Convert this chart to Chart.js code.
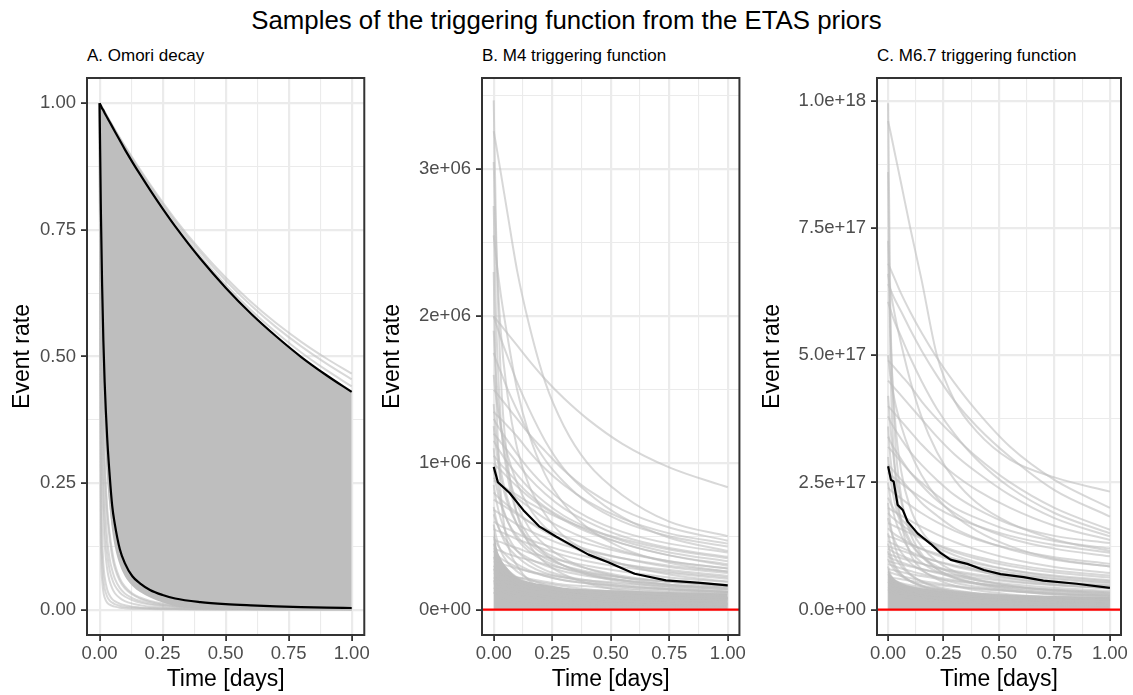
<!DOCTYPE html>
<html><head><meta charset="utf-8">
<script src="https://cdn.jsdelivr.net/npm/chart.js@4.4.1/dist/chart.umd.min.js"></script>
<style>
html,body{margin:0;padding:0;background:#fff;width:1133px;height:695px;overflow:hidden;font-family:"Liberation Sans",Arial,sans-serif;}
#title{position:absolute;left:0;width:1133px;top:8px;text-align:center;font-size:25.8px;line-height:25.8px;color:#000;white-space:nowrap;}
.sub{position:absolute;font-size:17px;line-height:17px;color:#000;top:47px;white-space:nowrap;}
canvas{position:absolute;top:0;}
</style></head><body>
<div id="title">Samples of the triggering function from the ETAS priors</div>
<div class="sub" style="left:87px">A. Omori decay</div>
<div class="sub" style="left:482px">B. M4 triggering function</div>
<div class="sub" style="left:877px">C. M6.7 triggering function</div>
<canvas id="cA" width="372" height="695" style="left:0px"></canvas>
<canvas id="cB" width="378" height="695" style="left:370px"></canvas>
<canvas id="cC" width="383" height="695" style="left:750px"></canvas>
<script>
// ---------------- axis ticks ----------------
const X_MAJOR = [0, 0.25, 0.5, 0.75, 1.0];
const X_MINOR = [0.125, 0.375, 0.625, 0.875];
const X_LABELS = ['0.00', '0.25', '0.50', '0.75', '1.00'];

const A_Y_MAJOR = [0, 0.25, 0.5, 0.75, 1.0];
const A_Y_MINOR = [0.125, 0.375, 0.625, 0.875];
const A_Y_LABELS = ['0.00', '0.25', '0.50', '0.75', '1.00'];

// panel B values are in units of 1e6
const B_Y_MAJOR = [0, 1, 2, 3];
const B_Y_MINOR = [0.5, 1.5, 2.5, 3.5];
const B_Y_LABELS = ['0e+00', '1e+06', '2e+06', '3e+06'];

// panel C values are in units of 1e17
const C_Y_MAJOR = [0, 2.5, 5, 7.5, 10];
const C_Y_MINOR = [1.25, 3.75, 6.25, 8.75];
const C_Y_LABELS = ['0.0e+00', '2.5e+17', '5.0e+17', '7.5e+17', '1.0e+18'];

// ---------------- panel A : Omori decay ----------------
const TIME_A = [0, 0.005, 0.01, 0.015, 0.02, 0.03, 0.04, 0.05, 0.06, 0.08, 0.1, 0.13, 0.16, 0.2, 0.25, 0.3, 0.4, 0.5, 0.6, 0.7, 0.8, 0.9, 1.0];
const A_UPPER_BLACK = [1.0, 0.995, 0.99, 0.986, 0.981, 0.972, 0.963, 0.954, 0.945, 0.927, 0.909, 0.884, 0.86, 0.829, 0.792, 0.757, 0.693, 0.636, 0.585, 0.54, 0.499, 0.463, 0.43];
const A_LOWER_BLACK = [1.0, 0.79, 0.64, 0.53, 0.45, 0.34, 0.265, 0.205, 0.17, 0.12, 0.092, 0.066, 0.052, 0.039, 0.029, 0.022, 0.015, 0.011, 0.0085, 0.0065, 0.005, 0.004, 0.0033];
// lower edge of the region fully covered by overlapping samples
const A_DENSE_FLOOR = [1.0, 0.7, 0.54, 0.43, 0.36, 0.26, 0.2, 0.155, 0.125, 0.088, 0.066, 0.047, 0.035, 0.024, 0.014, 0.007, 0.002, 0, 0, 0, 0, 0, 0];
const A_SAMPLES_LOW = [
  [1, 0.74, 0.58, 0.47, 0.39, 0.29, 0.22, 0.175, 0.145, 0.1, 0.075, 0.054, 0.041, 0.03, 0.021, 0.016, 0.01, 0.007, 0.005, 0.004, 0.003, 0.0025, 0.002],
  [1, 0.7, 0.5, 0.38, 0.3, 0.2, 0.15, 0.115, 0.09, 0.062, 0.046, 0.032, 0.024, 0.017, 0.012, 0.009, 0.006, 0.004, 0.003, 0.0025, 0.002, 0.0017, 0.0015],
  [1, 0.65, 0.46, 0.35, 0.28, 0.19, 0.14, 0.105, 0.083, 0.057, 0.042, 0.03, 0.022, 0.015, 0.01, 0.0075, 0.0048, 0.0034, 0.0026, 0.002, 0.0016, 0.0014, 0.0012],
  [1, 0.6, 0.4, 0.29, 0.22, 0.14, 0.1, 0.078, 0.062, 0.043, 0.032, 0.023, 0.017, 0.012, 0.009, 0.007, 0.0045, 0.0032, 0.0025, 0.002, 0.0016, 0.0013, 0.0011],
  [1, 0.52, 0.33, 0.23, 0.17, 0.11, 0.078, 0.06, 0.048, 0.034, 0.026, 0.019, 0.014, 0.01, 0.0075, 0.006, 0.004, 0.0028, 0.0021, 0.0017, 0.0014, 0.0012, 0.001],
  [1, 0.45, 0.27, 0.18, 0.13, 0.08, 0.056, 0.042, 0.033, 0.023, 0.017, 0.012, 0.009, 0.006, 0.0045, 0.0035, 0.0022, 0.0016, 0.0012, 0.001, 0.0008, 0.0007, 0.0006],
  [1, 0.3, 0.15, 0.09, 0.065, 0.04, 0.028, 0.021, 0.017, 0.012, 0.009, 0.006, 0.0045, 0.0032, 0.0024, 0.0018, 0.0012, 0.0009, 0.0007, 0.0005, 0.0004, 0.0004, 0.0003],
  [1, 0.22, 0.1, 0.06, 0.042, 0.026, 0.018, 0.014, 0.011, 0.0078, 0.006, 0.0043, 0.0033, 0.0025, 0.0019, 0.0015, 0.001, 0.0007, 0.0006, 0.0005, 0.0004, 0.0003, 0.0003],
  [1, 0.15, 0.06, 0.035, 0.024, 0.014, 0.01, 0.0075, 0.006, 0.004, 0.003, 0.002, 0.0016, 0.0012, 0.0009, 0.0007, 0.0005, 0.0004, 0.0003, 0.0002, 0.0002, 0.0002, 0.0001]
];
const TIME_A_COARSE = [0, 0.1, 0.2, 0.3, 0.4, 0.5, 0.6, 0.7, 0.8, 0.9, 1.0];
const A_SAMPLES_HIGH = [
  [1.0, 0.912, 0.833, 0.762, 0.698, 0.642, 0.592, 0.548, 0.508, 0.473, 0.441],
  [1.0, 0.914, 0.837, 0.767, 0.705, 0.65, 0.601, 0.558, 0.52, 0.486, 0.455],
  [1.0, 0.916, 0.84, 0.771, 0.71, 0.656, 0.608, 0.566, 0.529, 0.496, 0.466]
];

// ---------------- panels B and C: common sample grid ----------------
const TIME_BC = [0, 0.01, 0.03, 0.06, 0.1, 0.15, 0.22, 0.3, 0.4, 0.55, 0.75, 1.0];

// panel B samples (x 1e6)
const B_SAMPLES = [
  [3.47, 2.6, 1.6, 1.0, 0.65, 0.45, 0.32, 0.24, 0.18, 0.13, 0.1, 0.08],
  [3.26, 3.17, 2.98, 2.69, 2.31, 1.95, 1.55, 1.25, 1.0, 0.78, 0.6, 0.5],
  [3.05, 2.5, 1.9, 1.45, 1.1, 0.85, 0.65, 0.5, 0.4, 0.31, 0.24, 0.19],
  [2.75, 2.0, 1.3, 0.9, 0.65, 0.5, 0.38, 0.3, 0.24, 0.19, 0.15, 0.12],
  [2.55, 2.4, 2.15, 1.85, 1.5, 1.2, 0.92, 0.72, 0.56, 0.42, 0.32, 0.26],
  [2.3, 1.5, 0.8, 0.45, 0.3, 0.2, 0.14, 0.1, 0.08, 0.06, 0.045, 0.035],
  [2.0, 1.98, 1.94, 1.88, 1.8, 1.7, 1.57, 1.44, 1.3, 1.13, 0.97, 0.834],
  [2.0, 1.95, 1.85, 1.72, 1.55, 1.37, 1.15, 0.96, 0.8, 0.63, 0.49, 0.4],
  [1.9, 1.6, 1.25, 0.95, 0.72, 0.56, 0.44, 0.35, 0.28, 0.22, 0.17, 0.14],
  [1.75, 1.7, 1.62, 1.5, 1.36, 1.2, 1.02, 0.87, 0.73, 0.6, 0.5, 0.43],
  [1.6, 1.45, 1.25, 1.05, 0.86, 0.7, 0.56, 0.46, 0.38, 0.31, 0.26, 0.22],
  [1.5, 1.48, 1.44, 1.38, 1.3, 1.2, 1.08, 0.95, 0.82, 0.68, 0.56, 0.47],
  [1.4, 1.2, 0.95, 0.75, 0.58, 0.46, 0.37, 0.3, 0.25, 0.2, 0.16, 0.13],
  [1.35, 1.33, 1.3, 1.25, 1.18, 1.08, 0.96, 0.85, 0.74, 0.62, 0.52, 0.45],
  [1.3, 1.27, 1.22, 1.15, 1.06, 0.96, 0.84, 0.73, 0.63, 0.53, 0.45, 0.39],
  [1.25, 1.1, 0.9, 0.72, 0.58, 0.48, 0.39, 0.33, 0.28, 0.23, 0.19, 0.16],
  [1.2, 1.18, 1.14, 1.08, 1.0, 0.9, 0.79, 0.69, 0.6, 0.5, 0.42, 0.36],
  [1.15, 1.12, 1.07, 1.0, 0.92, 0.83, 0.73, 0.64, 0.56, 0.47, 0.39, 0.33],
  [1.1, 0.95, 0.75, 0.6, 0.48, 0.4, 0.33, 0.28, 0.24, 0.2, 0.17, 0.15],
  [1.05, 1.03, 0.99, 0.94, 0.87, 0.79, 0.7, 0.62, 0.54, 0.45, 0.37, 0.31],
  [1.0, 0.98, 0.95, 0.9, 0.84, 0.77, 0.69, 0.61, 0.53, 0.45, 0.37, 0.3],
  [0.95, 0.85, 0.72, 0.6, 0.5, 0.42, 0.35, 0.3, 0.26, 0.22, 0.19, 0.17],
  [0.9, 0.88, 0.85, 0.81, 0.76, 0.7, 0.62, 0.55, 0.48, 0.4, 0.33, 0.28],
  [0.88, 0.87, 0.85, 0.82, 0.78, 0.73, 0.67, 0.61, 0.55, 0.48, 0.41, 0.35],
  [0.85, 0.75, 0.62, 0.5, 0.4, 0.33, 0.27, 0.23, 0.2, 0.17, 0.14, 0.12],
  [0.8, 0.78, 0.75, 0.71, 0.66, 0.6, 0.53, 0.47, 0.41, 0.35, 0.29, 0.25],
  [0.75, 0.74, 0.72, 0.69, 0.65, 0.6, 0.55, 0.5, 0.45, 0.39, 0.33, 0.28],
  [0.7, 0.62, 0.52, 0.43, 0.36, 0.3, 0.25, 0.22, 0.19, 0.16, 0.14, 0.12],
  [0.68, 0.67, 0.65, 0.62, 0.58, 0.54, 0.49, 0.44, 0.4, 0.35, 0.3, 0.26],
  [0.65, 0.6, 0.53, 0.46, 0.4, 0.35, 0.3, 0.26, 0.23, 0.2, 0.17, 0.15],
  [0.6, 0.59, 0.57, 0.55, 0.52, 0.48, 0.44, 0.4, 0.36, 0.31, 0.27, 0.23],
  [0.58, 0.5, 0.4, 0.32, 0.26, 0.21, 0.17, 0.14, 0.12, 0.1, 0.085, 0.07],
  [0.55, 0.54, 0.53, 0.51, 0.48, 0.45, 0.41, 0.37, 0.33, 0.29, 0.25, 0.21],
  [0.5, 0.46, 0.41, 0.36, 0.31, 0.27, 0.23, 0.2, 0.18, 0.15, 0.13, 0.11],
  [0.48, 0.47, 0.46, 0.44, 0.42, 0.39, 0.36, 0.33, 0.3, 0.26, 0.22, 0.19],
  [0.45, 0.4, 0.33, 0.27, 0.22, 0.18, 0.15, 0.13, 0.11, 0.09, 0.08, 0.07],
  [0.42, 0.41, 0.4, 0.38, 0.36, 0.34, 0.31, 0.28, 0.25, 0.22, 0.19, 0.16],
  [0.4, 0.38, 0.35, 0.32, 0.29, 0.26, 0.23, 0.2, 0.18, 0.16, 0.14, 0.12],
  [0.36, 0.32, 0.27, 0.22, 0.18, 0.15, 0.13, 0.11, 0.095, 0.08, 0.07, 0.06],
  [0.33, 0.32, 0.31, 0.3, 0.28, 0.26, 0.24, 0.22, 0.2, 0.18, 0.16, 0.14],
  [0.3, 0.28, 0.26, 0.24, 0.22, 0.2, 0.18, 0.16, 0.14, 0.12, 0.1, 0.09],
  [0.28, 0.24, 0.2, 0.16, 0.13, 0.11, 0.09, 0.075, 0.065, 0.055, 0.045, 0.04],
  [0.25, 0.245, 0.24, 0.23, 0.22, 0.21, 0.19, 0.17, 0.16, 0.14, 0.12, 0.11],
  [0.22, 0.21, 0.2, 0.19, 0.17, 0.16, 0.14, 0.13, 0.11, 0.1, 0.09, 0.08],
  [0.2, 0.17, 0.14, 0.11, 0.09, 0.075, 0.06, 0.05, 0.045, 0.04, 0.035, 0.03],
  [0.18, 0.175, 0.17, 0.165, 0.155, 0.145, 0.135, 0.125, 0.115, 0.1, 0.09, 0.08],
  [0.15, 0.14, 0.13, 0.12, 0.11, 0.1, 0.09, 0.08, 0.07, 0.06, 0.05, 0.045],
  [0.12, 0.1, 0.08, 0.06, 0.05, 0.04, 0.035, 0.03, 0.025, 0.02, 0.018, 0.015]
];
const B_DENSE_TOP = [0.6, 0.45, 0.35, 0.28, 0.22, 0.19, 0.17, 0.15, 0.14, 0.13, 0.12, 0.11];
const B_BLACK_TIME = [0, 0.018, 0.068, 0.131, 0.194, 0.264, 0.32, 0.405, 0.489, 0.602, 0.736, 0.883, 1.0];
const B_BLACK = [0.973, 0.868, 0.795, 0.67, 0.568, 0.50, 0.45, 0.375, 0.323, 0.245, 0.20, 0.182, 0.166];

// panel C samples (x 1e17)
const C_SAMPLES = [
  [9.95, 6.0, 3.5, 2.2, 1.5, 1.1, 0.8, 0.62, 0.5, 0.38, 0.29, 0.23],
  [9.6, 9.4, 8.98, 8.35, 7.5, 6.5, 5.0, 4.1, 3.5, 2.95, 2.6, 2.32],
  [8.6, 5.0, 2.8, 1.7, 1.1, 0.8, 0.6, 0.47, 0.38, 0.3, 0.24, 0.2],
  [7.25, 5.5, 3.8, 2.7, 2.0, 1.55, 1.2, 0.95, 0.78, 0.62, 0.5, 0.42],
  [6.8, 6.7, 6.5, 6.2, 5.85, 5.45, 4.95, 4.45, 3.9, 3.2, 2.55, 2.0],
  [6.6, 6.3, 5.8, 5.2, 4.5, 3.8, 3.1, 2.55, 2.1, 1.7, 1.38, 1.15],
  [6.4, 6.3, 6.1, 5.85, 5.5, 5.1, 4.6, 4.1, 3.6, 3.0, 2.35, 1.83],
  [6.05, 5.9, 5.65, 5.35, 4.95, 4.5, 3.95, 3.45, 2.95, 2.4, 1.9, 1.5],
  [5.0, 4.6, 4.1, 3.6, 3.1, 2.65, 2.2, 1.85, 1.55, 1.25, 1.0, 0.85],
  [4.9, 4.85, 4.75, 4.6, 4.4, 4.1, 3.75, 3.4, 3.0, 2.5, 2.0, 1.57],
  [4.5, 4.45, 4.35, 4.2, 4.0, 3.75, 3.4, 3.05, 2.7, 2.25, 1.8, 1.44],
  [4.2, 3.6, 2.8, 2.1, 1.6, 1.25, 0.95, 0.75, 0.6, 0.47, 0.37, 0.3],
  [4.0, 3.95, 3.85, 3.7, 3.5, 3.25, 2.95, 2.65, 2.35, 2.0, 1.65, 1.37],
  [3.8, 3.7, 3.55, 3.35, 3.1, 2.85, 2.55, 2.25, 1.98, 1.68, 1.45, 1.31],
  [3.6, 3.0, 2.3, 1.75, 1.35, 1.05, 0.8, 0.64, 0.52, 0.41, 0.33, 0.27],
  [3.4, 3.3, 3.15, 2.95, 2.7, 2.45, 2.15, 1.9, 1.65, 1.4, 1.2, 1.05],
  [3.2, 3.15, 3.05, 2.9, 2.7, 2.5, 2.25, 2.0, 1.8, 1.55, 1.35, 1.2],
  [3.0, 2.6, 2.1, 1.65, 1.3, 1.05, 0.85, 0.7, 0.58, 0.47, 0.38, 0.32],
  [2.85, 2.8, 2.7, 2.55, 2.35, 2.1, 1.85, 1.6, 1.4, 1.18, 0.98, 0.85],
  [2.7, 2.65, 2.58, 2.48, 2.35, 2.2, 2.0, 1.82, 1.65, 1.45, 1.27, 1.12],
  [2.5, 2.2, 1.8, 1.45, 1.15, 0.93, 0.75, 0.62, 0.52, 0.42, 0.35, 0.3],
  [2.4, 2.35, 2.28, 2.18, 2.05, 1.9, 1.72, 1.55, 1.38, 1.2, 1.03, 0.9],
  [2.2, 2.1, 1.95, 1.78, 1.6, 1.42, 1.23, 1.07, 0.93, 0.78, 0.65, 0.56],
  [2.1, 1.7, 1.25, 0.92, 0.7, 0.55, 0.43, 0.35, 0.29, 0.23, 0.19, 0.16],
  [2.0, 1.97, 1.92, 1.85, 1.75, 1.63, 1.48, 1.33, 1.18, 1.0, 0.84, 0.72],
  [1.9, 1.85, 1.77, 1.67, 1.55, 1.42, 1.27, 1.13, 1.0, 0.86, 0.73, 0.63],
  [1.8, 1.6, 1.35, 1.12, 0.92, 0.77, 0.63, 0.53, 0.45, 0.37, 0.31, 0.26],
  [1.7, 1.68, 1.64, 1.58, 1.5, 1.4, 1.28, 1.16, 1.04, 0.9, 0.77, 0.67],
  [1.6, 1.55, 1.48, 1.4, 1.3, 1.19, 1.07, 0.96, 0.85, 0.73, 0.62, 0.54],
  [1.5, 1.3, 1.05, 0.85, 0.68, 0.56, 0.45, 0.38, 0.32, 0.26, 0.21, 0.18],
  [1.45, 1.43, 1.4, 1.35, 1.28, 1.2, 1.1, 1.0, 0.9, 0.78, 0.67, 0.58],
  [1.35, 1.32, 1.28, 1.22, 1.14, 1.05, 0.95, 0.85, 0.76, 0.65, 0.55, 0.48],
  [1.3, 1.1, 0.88, 0.7, 0.56, 0.46, 0.37, 0.31, 0.26, 0.21, 0.17, 0.14],
  [1.25, 1.23, 1.2, 1.16, 1.1, 1.03, 0.95, 0.87, 0.79, 0.69, 0.6, 0.52],
  [1.2, 1.17, 1.12, 1.06, 0.99, 0.91, 0.82, 0.74, 0.66, 0.57, 0.49, 0.42],
  [1.15, 1.0, 0.83, 0.68, 0.56, 0.47, 0.39, 0.33, 0.28, 0.23, 0.19, 0.16],
  [1.1, 1.08, 1.05, 1.01, 0.96, 0.9, 0.83, 0.76, 0.69, 0.61, 0.53, 0.47],
  [1.05, 1.02, 0.98, 0.93, 0.87, 0.8, 0.72, 0.65, 0.58, 0.5, 0.43, 0.37],
  [1.0, 0.9, 0.78, 0.66, 0.56, 0.48, 0.41, 0.35, 0.3, 0.25, 0.21, 0.18],
  [0.95, 0.94, 0.92, 0.89, 0.85, 0.8, 0.74, 0.68, 0.62, 0.55, 0.48, 0.42],
  [0.9, 0.88, 0.85, 0.81, 0.76, 0.7, 0.64, 0.58, 0.52, 0.45, 0.39, 0.34],
  [0.85, 0.7, 0.55, 0.43, 0.34, 0.27, 0.22, 0.18, 0.15, 0.12, 0.1, 0.085],
  [0.8, 0.79, 0.77, 0.74, 0.7, 0.66, 0.61, 0.56, 0.51, 0.45, 0.39, 0.34],
  [0.75, 0.73, 0.7, 0.66, 0.62, 0.57, 0.52, 0.47, 0.42, 0.37, 0.32, 0.28],
  [0.7, 0.65, 0.58, 0.51, 0.45, 0.39, 0.34, 0.3, 0.26, 0.22, 0.19, 0.16],
  [0.65, 0.64, 0.62, 0.6, 0.57, 0.53, 0.49, 0.45, 0.41, 0.36, 0.31, 0.27],
  [0.6, 0.58, 0.55, 0.52, 0.48, 0.44, 0.4, 0.36, 0.32, 0.28, 0.24, 0.21],
  [0.55, 0.5, 0.44, 0.38, 0.33, 0.28, 0.24, 0.21, 0.18, 0.15, 0.13, 0.11],
  [0.5, 0.49, 0.48, 0.46, 0.44, 0.41, 0.38, 0.35, 0.32, 0.28, 0.25, 0.22],
  [0.45, 0.43, 0.4, 0.37, 0.34, 0.31, 0.28, 0.25, 0.22, 0.19, 0.16, 0.14],
  [0.4, 0.36, 0.31, 0.27, 0.23, 0.2, 0.17, 0.15, 0.13, 0.11, 0.09, 0.08],
  [0.35, 0.34, 0.33, 0.32, 0.3, 0.28, 0.26, 0.24, 0.22, 0.2, 0.18, 0.16]
];
const C_DENSE_TOP = [0.8, 0.7, 0.6, 0.52, 0.46, 0.42, 0.38, 0.35, 0.32, 0.29, 0.27, 0.25];
const C_BLACK_TIME = [0, 0.013, 0.025, 0.043, 0.066, 0.088, 0.133, 0.193, 0.238, 0.283, 0.357, 0.432, 0.507, 0.611, 0.70, 0.85, 1.0];
const C_BLACK = [2.82, 2.55, 2.52, 2.06, 1.96, 1.73, 1.50, 1.29, 1.11, 0.98, 0.90, 0.78, 0.70, 0.64, 0.57, 0.51, 0.43];

const HLINE_VALUE = 0;

// ---------------- styling ----------------
const FONT = '"Liberation Sans", Arial, Helvetica, sans-serif';
Chart.defaults.font.family = FONT;
const GREY_LINE = 'rgba(190,190,190,0.6)';
const GREY_FILL = '#bebebe';

function pts(xs, ys) { return ys.map((y, i) => ({ x: xs[i], y: y })); }

function greyLine(xs, ys) {
  return { data: pts(xs, ys), borderColor: GREY_LINE, borderWidth: 2, pointRadius: 0,
           cubicInterpolationMode: 'monotone', fill: false, order: 10 };
}
function blackLine(xs, ys, smooth) {
  return { data: pts(xs, ys), borderColor: '#000000', borderWidth: 2.2, pointRadius: 0,
           cubicInterpolationMode: smooth ? 'monotone' : 'default', tension: 0, fill: false, order: 0 };
}

const decor = {
  id: 'decor',
  afterDatasetsDraw(chart, args, opts) {
    const { ctx, chartArea: a, scales } = chart;
    ctx.save();
    if (opts.hline) {
      const y = scales.y.getPixelForValue(HLINE_VALUE);
      ctx.strokeStyle = '#ff0000';
      ctx.lineWidth = 2.2;
      ctx.beginPath(); ctx.moveTo(a.left, y); ctx.lineTo(a.right, y); ctx.stroke();
    }
    ctx.strokeStyle = '#333333';
    ctx.lineWidth = 2;
    ctx.strokeRect(a.left, a.top, a.right - a.left, a.bottom - a.top);
    ctx.restore();
  }
};

function axisCfg(major, minor, labels, min, max, isX, size, title) {
  const all = major.concat(minor).sort((p, q) => p - q);
  const isMajor = v => major.some(m => Math.abs(m - v) < 1e-9);
  return {
    type: 'linear', min: min, max: max,
    afterBuildTicks: s => { s.ticks = all.map(v => ({ value: v })); },
    afterFit: s => { if (isX) s.height = size; else s.width = size; },
    grid: {
      color: '#ebebeb',
      lineWidth: c => (c.tick && isMajor(c.tick.value)) ? 2.2 : 1.1,
      tickColor: c => (c.tick && isMajor(c.tick.value)) ? '#333333' : 'rgba(0,0,0,0)',
      tickWidth: 1.8,
      tickLength: 6,
      drawTicks: true
    },
    border: { display: false },
    ticks: {
      autoSkip: false, maxRotation: 0, minRotation: 0,
      padding: isX ? 2 : 5,
      color: '#4d4d4d',
      font: { size: 18.5, family: FONT },
      callback: v => { const i = major.findIndex(m => Math.abs(m - v) < 1e-9); return i >= 0 ? labels[i] : ''; }
    },
    title: { display: true, text: title, color: '#000000',
             font: { size: 23, family: FONT, lineHeight: 1.2 },
             padding: isX ? { top: 0, bottom: 2 } : { top: 9, bottom: 0 } }
  };
}

function makeChart(id, datasets, yAxis, padRight, hline) {
  return new Chart(document.getElementById(id), {
    type: 'line',
    data: { datasets: datasets },
    options: {
      responsive: false, animation: false, devicePixelRatio: 1,
      layout: { padding: { top: 78, right: padRight, left: 0, bottom: 0 } },
      plugins: { legend: { display: false }, tooltip: { enabled: false }, title: { display: false }, decor: { hline: hline } },
      elements: { point: { radius: 0 }, line: { borderCapStyle: 'butt', borderJoinStyle: 'round' } },
      scales: {
        x: axisCfg(X_MAJOR, X_MINOR, X_LABELS, -0.05, 1.05, true, 60, 'Time [days]'),
        y: yAxis
      }
    },
    plugins: [decor]
  });
}

// ---- Panel A ----
(function () {
  const ds = [];
  A_SAMPLES_LOW.forEach(s => ds.push(greyLine(TIME_A, s)));
  ds.push({ data: pts(TIME_A, A_UPPER_BLACK), borderWidth: 0, borderColor: 'rgba(0,0,0,0)', pointRadius: 0,
            backgroundColor: GREY_FILL, fill: '+1', cubicInterpolationMode: 'monotone', order: 20 });
  ds.push({ data: pts(TIME_A, A_DENSE_FLOOR), borderWidth: 0, borderColor: 'rgba(0,0,0,0)', pointRadius: 0,
            fill: false, cubicInterpolationMode: 'monotone', order: 21 });
  A_SAMPLES_HIGH.forEach(s => ds.push(greyLine(TIME_A_COARSE, s)));
  ds.push(blackLine(TIME_A, A_UPPER_BLACK, true));
  ds.push(blackLine(TIME_A, A_LOWER_BLACK, true));
  makeChart('cA', ds, axisCfg(A_Y_MAJOR, A_Y_MINOR, A_Y_LABELS, -0.05, 1.05, false, 87, 'Event rate'), 7, false);
})();

// ---- Panel B ----
(function () {
  const ds = [];
  ds.push({ data: pts(TIME_BC, B_DENSE_TOP), borderWidth: 0, borderColor: 'rgba(0,0,0,0)', pointRadius: 0,
            backgroundColor: GREY_FILL, fill: 'origin', cubicInterpolationMode: 'monotone', order: 20 });
  B_SAMPLES.forEach(s => ds.push(greyLine(TIME_BC, s)));
  ds.push(blackLine(B_BLACK_TIME, B_BLACK, false));
  makeChart('cB', ds, axisCfg(B_Y_MAJOR, B_Y_MINOR, B_Y_LABELS, -0.1725, 3.6225, false, 112, 'Event rate'), 6, true);
})();

// ---- Panel C ----
(function () {
  const ds = [];
  ds.push({ data: pts(TIME_BC, C_DENSE_TOP), borderWidth: 0, borderColor: 'rgba(0,0,0,0)', pointRadius: 0,
            backgroundColor: GREY_FILL, fill: 'origin', cubicInterpolationMode: 'monotone', order: 20 });
  C_SAMPLES.forEach(s => ds.push(greyLine(TIME_BC, s)));
  ds.push(blackLine(C_BLACK_TIME, C_BLACK, false));
  makeChart('cC', ds, axisCfg(C_Y_MAJOR, C_Y_MINOR, C_Y_LABELS, -0.4975, 10.4475, false, 127, 'Event rate'), 12, true);
})();
</script>
</body></html>
